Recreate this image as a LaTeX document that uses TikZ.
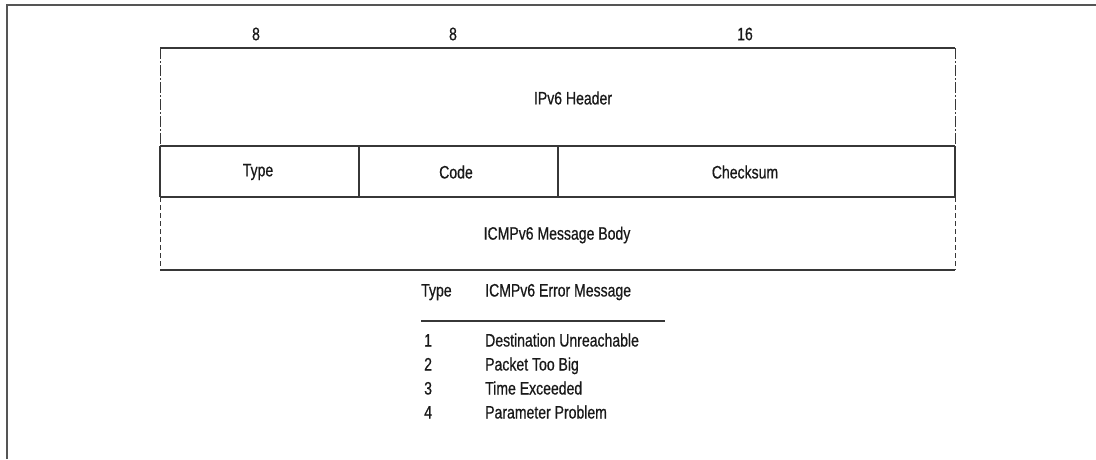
\documentclass[tikz,border=0pt]{standalone}
\usepackage{fontspec}
\setmainfont{Liberation Sans}[FakeStretch=0.78, FakeBold=0.6]
\usetikzlibrary{positioning}
\definecolor{frameGray}{RGB}{85,85,85}
\definecolor{lineGray}{RGB}{55,55,55}

\begin{document}
\begin{tikzpicture}[x=1pt, y=-1pt,
    field/.style={font=\fontsize{18}{20}\selectfont, text=black!90},
    entry/.style={field, anchor=west, inner sep=0pt, text height=13pt, text depth=4pt},
    box/.style={lineGray, line width=1.3pt},
    dashdot/.style={box, line width=1pt, dash pattern=on 11pt off 2pt on 2pt off 2pt},
    dashbox/.style={box, line width=1pt, dash pattern=on 5pt off 3pt}]
    \useasboundingbox (0,0) rectangle (1096,459);
    % outer frame
    \draw[frameGray, line width=2pt] (7,459) -- (7,5) -- (1096,5);
    % corners of the packet
    \coordinate (TL) at (160,48);
    \coordinate (TR) at (955,48);
    \coordinate (ML) at (160,146);
    \coordinate (MR) at (955,146);
    \coordinate (NL) at (160,197);
    \coordinate (NR) at (955,197);
    \coordinate (BL) at (160,270);
    \coordinate (BR) at (955,270);
    \coordinate (D1a) at (359,146);
    \coordinate (D1b) at (359,197);
    \coordinate (D2a) at (558,146);
    \coordinate (D2b) at (558,197);
    \draw[box] (TL) -- (TR);
    \draw[box] (ML) -- (MR);
    \draw[box] (NL) -- (NR);
    \draw[box] (BL) -- (BR);
    \draw[box] (ML) -- (NL);
    \draw[box] (MR) -- (NR);
    \draw[box] (D1a) -- (D1b);
    \draw[box] (D2a) -- (D2b);
    \draw[dashdot] (TL) -- (ML);
    \draw[dashdot] (TR) -- (MR);
    \draw[dashbox] (NL) -- (BL);
    \draw[dashbox] (NR) -- (BR);
    % bit widths
    \node[field] (w1) at (256,34) {8};
    \node[field] (w2) at (453,34) {8};
    \node[field] (w3) at (745,34) {16};
    % fields
    \node[field] (hdr) at (573,98) {IPv6 Header};
    \node[field] (type) at (258,172) {Type};
    \node[field] (code) at (456,172) {Code};
    \node[field] (csum) at (745,172) {Checksum};
    \node[field] (body) at (557,235) {ICMPv6 Message Body};
    % table of types
    \node[entry] (th1) at (421,292) {Type};
    \node[entry] (th2) at (485,292) {ICMPv6 Error Message};
    \coordinate (ruleL) at (421,321);
    \coordinate (ruleR) at (665,321);
    \draw[lineGray, line width=1.2pt] (ruleL) -- (ruleR);
    \node[entry] (n1) at (424,342) {1};
    \node[entry] (m1) at (485,342) {Destination Unreachable};
    \node[entry] (n2) at (424,366) {2};
    \node[entry] (m2) at (485,366) {Packet Too Big};
    \node[entry] (n3) at (424,390) {3};
    \node[entry] (m3) at (485,390) {Time Exceeded};
    \node[entry] (n4) at (424,414) {4};
    \node[entry] (m4) at (485,414) {Parameter Problem};
\end{tikzpicture}
\end{document}
